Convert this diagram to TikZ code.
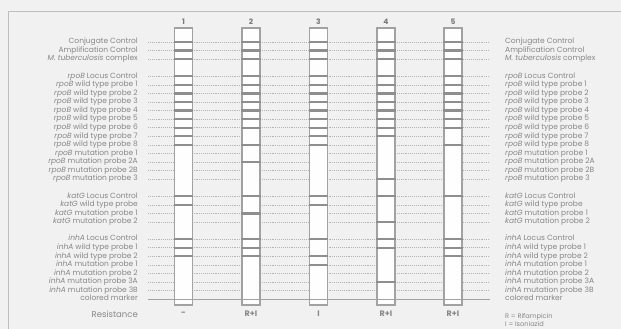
\documentclass[tikz,border=0pt]{standalone}
\usepackage{fontspec}
\setmainfont{Poppins}
\usetikzlibrary{positioning}
\definecolor{paper}{HTML}{F1F1F1}
\definecolor{inkgray}{HTML}{878787}
\definecolor{bandgray}{HTML}{8E8E8E}
\definecolor{rimgray}{HTML}{A2A2A2}
\definecolor{dotgray}{HTML}{B4B4B4}

\begin{document}
\begin{tikzpicture}[x=1pt, y=-1pt,
    lbl/.style={font=\fontsize{7.5}{8}\selectfont, text=inkgray, inner sep=0pt, text height=5pt, text depth=1.4pt},
    guide/.style={dotgray, line width=0.6pt, dash pattern=on 0.8pt off 1.1pt, shorten <=10pt, shorten >=15pt},
    markline/.style={rimgray, line width=0.8pt},
    stripbox/.style={draw=rimgray, line width=1.2pt, fill=white!96!paper, minimum width=18pt, minimum height=277pt, inner sep=0pt},
    band/.style={bandgray, line width=2.3pt},
    numlbl/.style={font=\fontsize{7.5}{8}\selectfont\bfseries, text=inkgray!90!black, inner sep=0pt},
    reslbl/.style={font=\fontsize{8}{9}\selectfont\bfseries, text=inkgray, inner sep=0pt}]
    \useasboundingbox (0,0) rectangle (621,329);
    \fill[paper] (0,0) rectangle (621,329);
    \draw[rimgray!70, line width=0.8pt] (8,329) -- (8,11) -- (621,11);

    % Probe rows, left and right
    \foreach \r/\txt in {0/Conjugate Control, 1/Amplification Control, 2/{\textit{M. tuberculosis} complex},
        4/{\textit{rpoB} Locus Control}, 5/{\textit{rpoB} wild type probe 1}, 6/{\textit{rpoB} wild type probe 2},
        7/{\textit{rpoB} wild type probe 3}, 8/{\textit{rpoB} wild type probe 4}, 9/{\textit{rpoB} wild type probe 5},
        10/{\textit{rpoB} wild type probe 6}, 11/{\textit{rpoB} wild type probe 7}, 12/{\textit{rpoB} wild type probe 8},
        13/{\textit{rpoB} mutation probe 1}, 14/{\textit{rpoB} mutation probe 2A}, 15/{\textit{rpoB} mutation probe 2B},
        16/{\textit{rpoB} mutation probe 3},
        18/{\textit{katG} Locus Control}, 19/{\textit{katG} wild type probe}, 20/{\textit{katG} mutation probe 1},
        21/{\textit{katG} mutation probe 2},
        23/{\textit{inhA} Locus Control}, 24/{\textit{inhA} wild type probe 1}, 25/{\textit{inhA} wild type probe 2},
        26/{\textit{inhA} mutation probe 1}, 27/{\textit{inhA} mutation probe 2}, 28/{\textit{inhA} mutation probe 3A},
        29/{\textit{inhA} mutation probe 3B}, 30/colored marker} {
      \node[lbl, anchor=east] (L\r) at (138, {42+8.57*\r}) {\txt};
      \node[lbl, anchor=west] (R\r) at (505, {42+8.57*\r}) {\txt};
    }
    \foreach \r in {0,1,2,4,5,...,16,18,19,20,21,23,24,...,29}
      \draw[guide] (L\r.east) -- (R\r.west);
    \draw[markline, shorten <=10pt, shorten >=15pt] (L30.east) -- (R30.west);

    % Strips
    \foreach \i/\xc/\res in {1/183.5/-, 2/251/R+I, 3/318.5/I, 4/386/R+I, 5/453/R+I} {
      \node[stripbox] (S\i) at (\xc, 166.5) {};
      \node[numlbl, above=2.5pt of S\i] (N\i) {\i};
      \node[reslbl] (Q\i) at (\xc, 314) {\res};
      \draw[markline] (S\i.west |- L30.east) -- (S\i.east |- L30.east);
    }
    \foreach \i/\rows in {1/{0,1,2,4,5,6,7,8,9,10,11,12,18,19,23,24,25},
        2/{0,1,2,4,5,6,7,8,9,10,12,14,18,20,23,24,25},
        3/{0,1,2,4,5,6,7,8,9,10,11,12,18,19,23,25,26},
        4/{0,1,2,4,5,6,7,8,9,10,11,16,18,21,23,24,28},
        5/{0,1,2,4,5,6,7,8,9,10,12,18,23,24,25}}
      \foreach \r in \rows
        \draw[band] (S\i.west |- L\r.east) -- (S\i.east |- L\r.east);

    % Resistance legend
    \node[font=\fontsize{8.5}{9}\selectfont, text=inkgray, inner sep=0pt, anchor=east] (res) at (138, 314) {Resistance};
    \node[lbl, font=\fontsize{6.6}{7}\selectfont, anchor=west] (legR) at (505, 316.5) {R = Rifampicin};
    \node[lbl, font=\fontsize{6.6}{7}\selectfont, anchor=west] (legI) at (505, 325) {I = Isoniazid};
\end{tikzpicture}
\end{document}
